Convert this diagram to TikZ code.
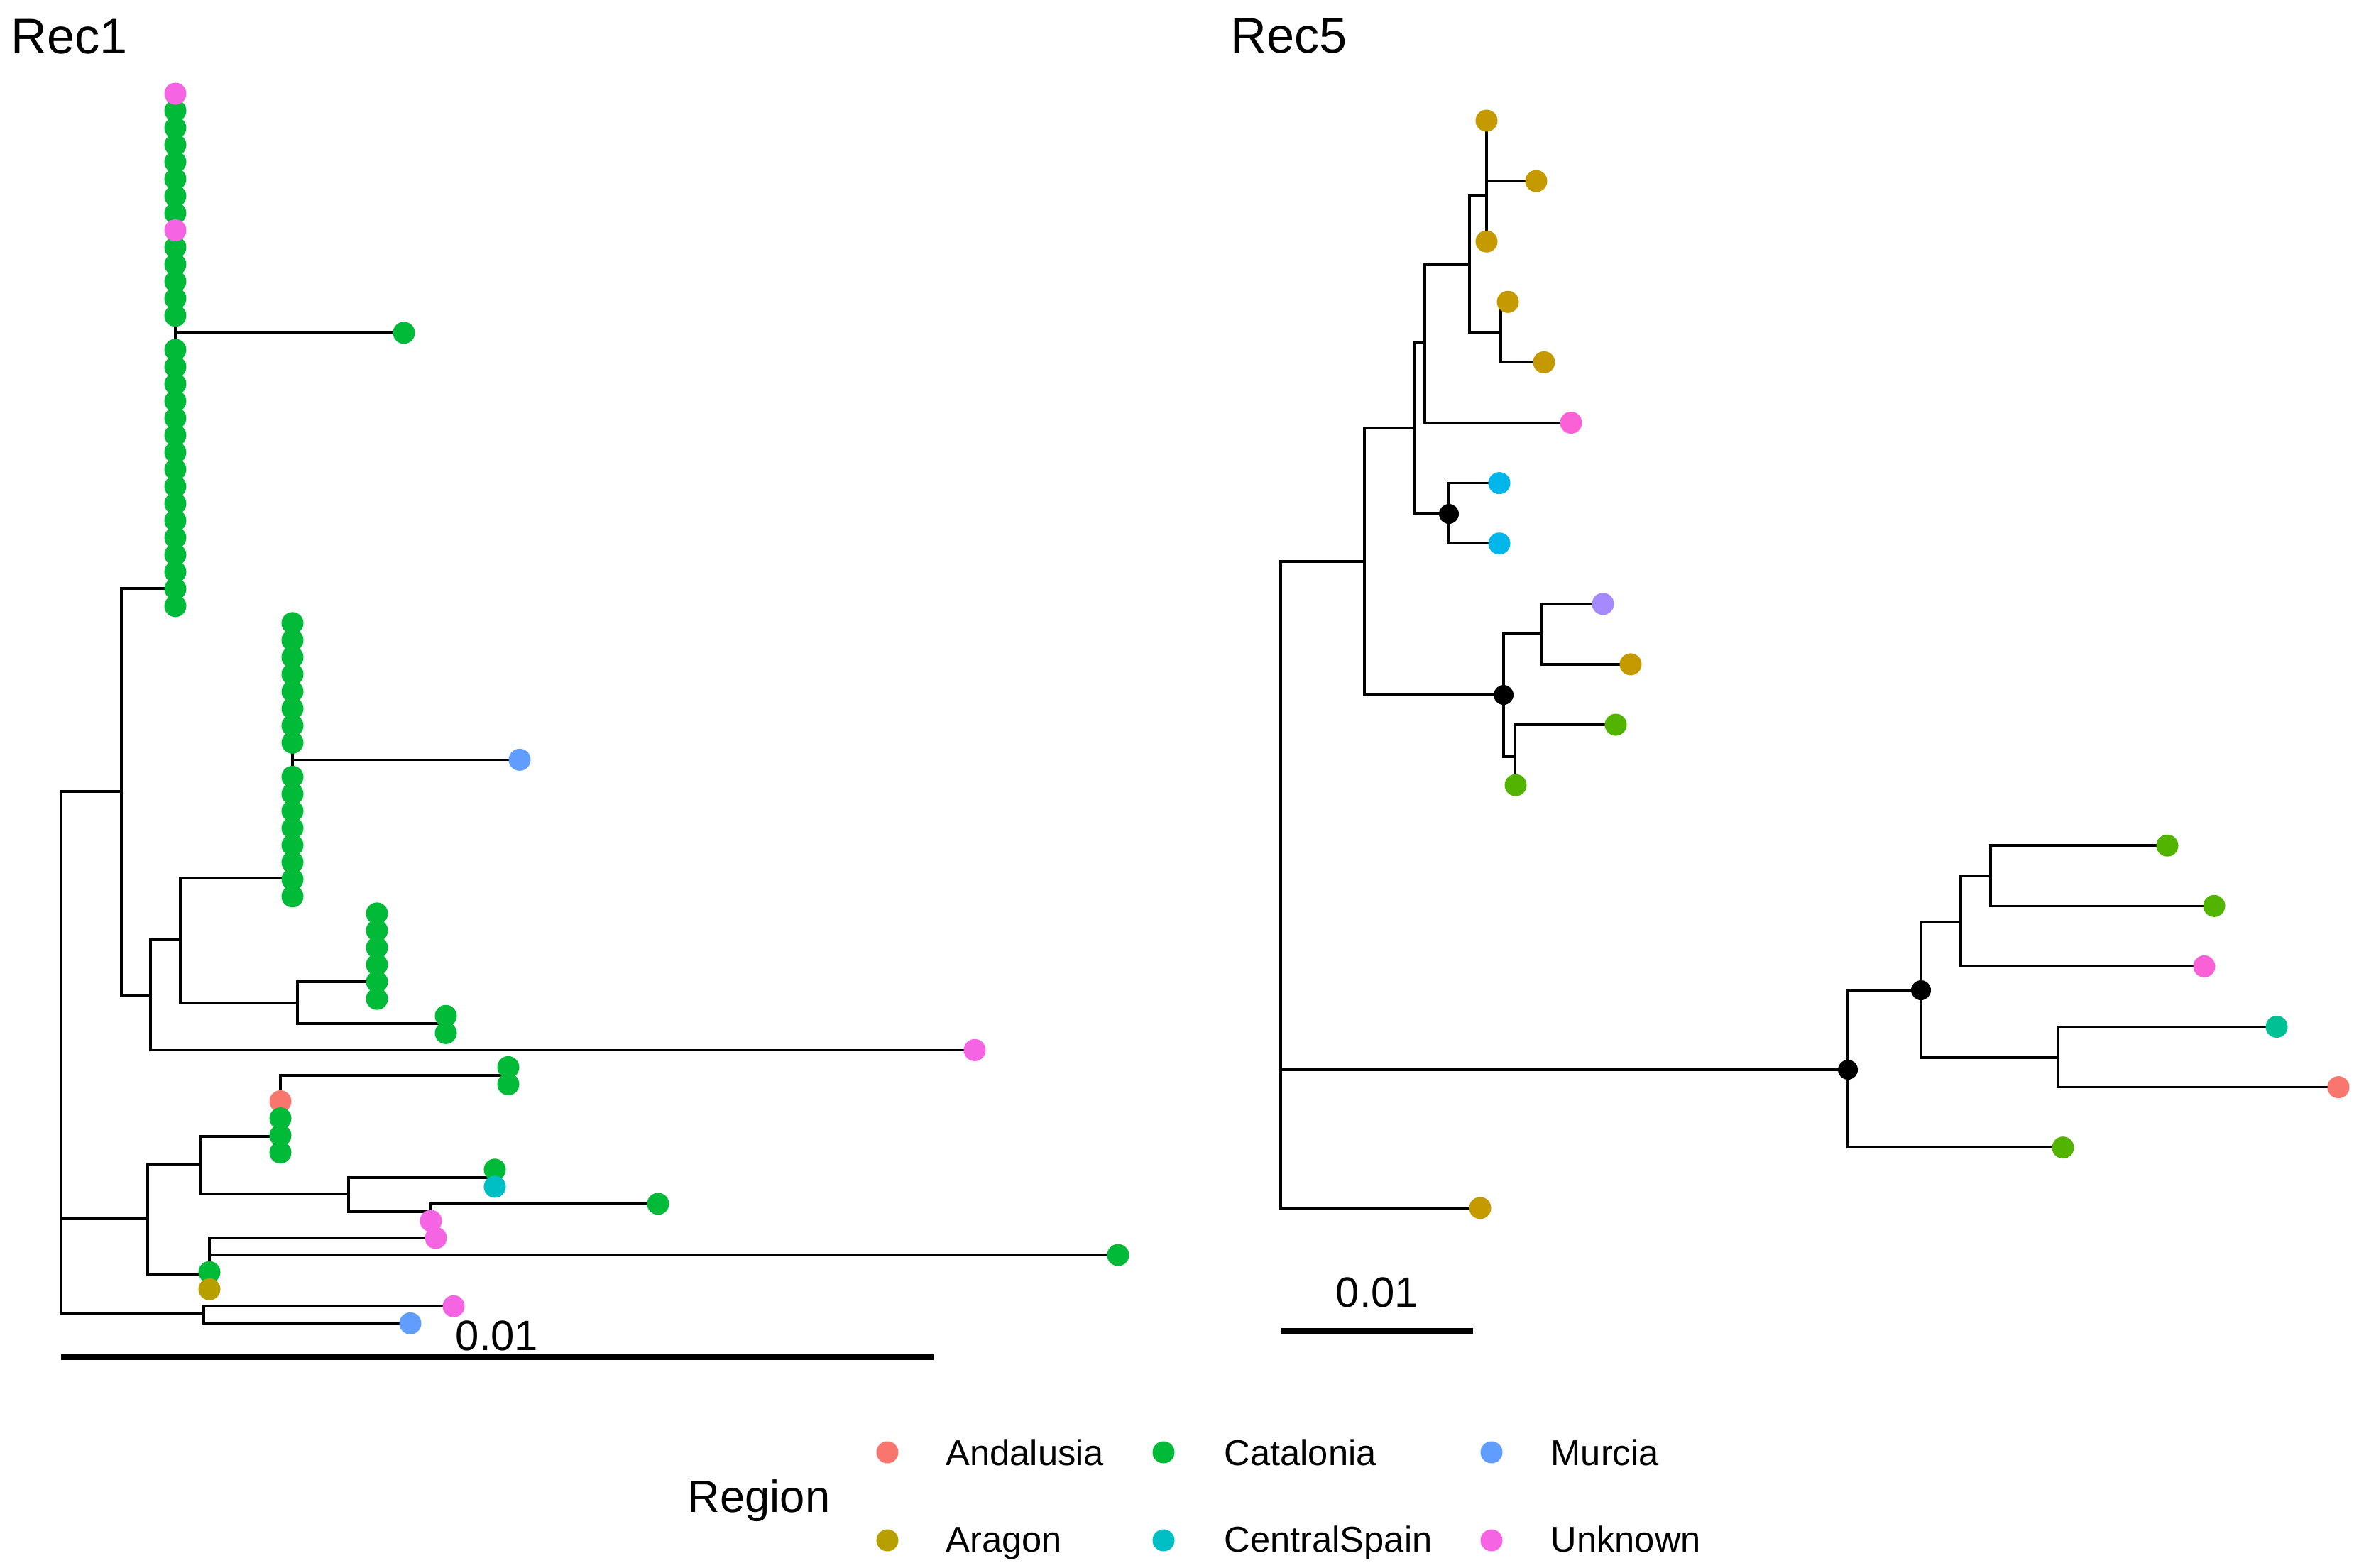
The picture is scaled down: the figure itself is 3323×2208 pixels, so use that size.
\documentclass[tikz,border=0pt]{standalone}
\usepackage{fontspec}
\setmainfont{Liberation Sans}
\usetikzlibrary{backgrounds}

\definecolor{andalusia}{HTML}{F8766D}
\definecolor{aragon}{HTML}{B79F00}
\definecolor{catalonia}{HTML}{00BA38}
\definecolor{centralspain}{HTML}{00BFC4}
\definecolor{murcia}{HTML}{619CFF}
\definecolor{unknown}{HTML}{F564E3}
% Rec5 uses a seven colour scale
\definecolor{oliveV}{HTML}{C49A00}
\definecolor{greenV}{HTML}{53B400}
\definecolor{tealV}{HTML}{00C094}
\definecolor{blueV}{HTML}{00B6EB}
\definecolor{purpleV}{HTML}{A58AFF}
\definecolor{pinkV}{HTML}{FB61D7}
\definecolor{salmonV}{HTML}{F8766D}

\tikzset{
  branchline/.style={line width=1pt},
  leaf/.style={circle,fill=#1,inner sep=0pt,minimum size=0.31cm},
  innerdot/.style={circle,fill=black,inner sep=0pt,minimum size=0.28cm},
  scalebar/.style={line width=2.4pt},
  treetitle/.style={font=\fontsize{20}{24}\selectfont,anchor=base west,inner sep=0pt},
  scalelabel/.style={font=\fontsize{17}{20}\selectfont,anchor=base,inner sep=0pt},
  keylabel/.style={font=\fontsize{14.4}{17}\selectfont,anchor=base west,inner sep=0pt},
}
\newcommand{\lrow}[1]{132+24.06*#1}
\newcommand{\rrow}[1]{170+85.1*#1}

\begin{document}
\begin{tikzpicture}[x=0.01cm,y=-0.01cm]
\useasboundingbox (0,0) rectangle (3323,2208);

%%% Rec1
\node[treetitle] (title1) at (15,75) {Rec1};

% tips
\foreach \i in {1,...,7} \node[leaf=catalonia] (l\i) at (247,{\lrow{\i}}) {};
\foreach \i in {9,...,13} \node[leaf=catalonia] (l\i) at (247,{\lrow{\i}}) {};
\foreach \i in {15,...,30} \node[leaf=catalonia] (l\i) at (247,{\lrow{\i}}) {};
\node[leaf=unknown] (l0) at (247,{\lrow{0}}) {};
\node[leaf=unknown] (l8) at (247,{\lrow{8}}) {};
\node[leaf=catalonia] (l14) at (569,{\lrow{14}}) {};

\foreach \i in {31,...,38} \node[leaf=catalonia] (l\i) at (412,{\lrow{\i}}) {};
\foreach \i in {40,...,47} \node[leaf=catalonia] (l\i) at (412,{\lrow{\i}}) {};
\node[leaf=murcia] (l39) at (732,{\lrow{39}}) {};

\foreach \i in {48,...,53} \node[leaf=catalonia] (l\i) at (531,{\lrow{\i}}) {};
\node[leaf=catalonia] (l54) at (628,{\lrow{54}}) {};
\node[leaf=catalonia] (l55) at (628,{\lrow{55}}) {};
\node[leaf=unknown] (l56) at (1373,{\lrow{56}}) {};
\node[leaf=catalonia] (l57) at (716,{\lrow{57}}) {};
\node[leaf=catalonia] (l58) at (716,{\lrow{58}}) {};
\node[leaf=andalusia] (l59) at (395,{\lrow{59}}) {};
\foreach \i in {60,61,62} \node[leaf=catalonia] (l\i) at (395,{\lrow{\i}}) {};
\node[leaf=catalonia] (l63) at (697,{\lrow{63}}) {};
\node[leaf=centralspain] (l64) at (697,{\lrow{64}}) {};
\node[leaf=catalonia] (l65) at (927,{\lrow{65}}) {};
\node[leaf=unknown] (l66) at (607,{\lrow{66}}) {};
\node[leaf=unknown] (l67) at (614,{\lrow{67}}) {};
\node[leaf=catalonia] (l68) at (1575,{\lrow{68}}) {};
\node[leaf=catalonia] (l69) at (295,{\lrow{69}}) {};
\node[leaf=aragon] (l70) at (295,{\lrow{70}}) {};
\node[leaf=unknown] (l71) at (639,{\lrow{71}}) {};
\node[leaf=murcia] (l72) at (578,{\lrow{72}}) {};

% inner nodes
\coordinate (Lroot) at (86,1483);
\coordinate (Lp1) at (171,1115);
\coordinate (Lc1) at (247,829);
\coordinate (Lq) at (212,1403);
\coordinate (Lq1) at (254,1324);
\coordinate (Lc2) at (412,1237);
\coordinate (Lq2) at (419,1413);
\coordinate (Lc3) at (531,1383);
\coordinate (Lc4) at (628,1442);
\coordinate (Lp2) at (208,1717);
\coordinate (Ls1) at (282,1641);
\coordinate (Lc5) at (395,1601);
\coordinate (Lc6) at (716,1515);
\coordinate (Ls3) at (491,1682);
\coordinate (Lc7) at (697,1659);
\coordinate (Ls4) at (607,1707);
\coordinate (Ls2) at (295,1796);
\coordinate (Lp3) at (287,1851);

\begin{pgfonlayer}{background}
\draw[branchline] (Lroot) |- (Lp1) (Lroot) |- (Lp2) (Lroot) |- (Lp3);
\draw[branchline] (Lp1) |- (Lc1) (Lp1) |- (Lq);
\draw[branchline] (Lc1) |- (l0.center) (Lc1) |- (l30.center) (Lc1) |- (l14.center);
\draw[branchline] (Lq) |- (Lq1) (Lq) |- (l56.center);
\draw[branchline] (Lq1) |- (Lc2) (Lq1) |- (Lq2);
\draw[branchline] (Lc2) |- (l31.center) (Lc2) |- (l47.center) (Lc2) |- (l39.center);
\draw[branchline] (Lq2) |- (Lc3) (Lq2) |- (Lc4);
\draw[branchline] (Lc3) |- (l48.center) (Lc3) |- (l53.center);
\draw[branchline] (Lc4) |- (l54.center) (Lc4) |- (l55.center);
\draw[branchline] (Lp2) |- (Ls1) (Lp2) |- (Ls2);
\draw[branchline] (Ls1) |- (Lc5) (Ls1) |- (Ls3);
\draw[branchline] (Lc5) |- (Lc6) (Lc5) |- (l62.center);
\draw[branchline] (Lc6) |- (l57.center) (Lc6) |- (l58.center);
\draw[branchline] (Ls3) |- (Lc7) (Ls3) |- (Ls4);
\draw[branchline] (Lc7) |- (l63.center) (Lc7) |- (l64.center);
\draw[branchline] (Ls4) |- (l65.center) (Ls4) |- (l66.center);
\draw[branchline] (Ls2) |- (l67.center) (Ls2) |- (l68.center) (Ls2) |- (l70.center);
\draw[branchline] (Lp3) |- (l71.center) (Lp3) |- (l72.center);
\end{pgfonlayer}

% scale
\coordinate (sbLa) at (86,1912);
\coordinate (sbLb) at (1315,1912);
\draw[scalebar] (sbLa) -- (sbLb);
\node[scalelabel] (scaleL) at (700,1902) {0.01};

%%% Rec5
\node[treetitle] (title5) at (1733,74) {Rec5};

\node[leaf=oliveV] (r0) at (2094,{\rrow{0}}) {};
\node[leaf=oliveV] (r1) at (2164,{\rrow{1}}) {};
\node[leaf=oliveV] (r2) at (2094,{\rrow{2}}) {};
\node[leaf=oliveV] (r3) at (2124,{\rrow{3}}) {};
\node[leaf=oliveV] (r4) at (2175,{\rrow{4}}) {};
\node[leaf=pinkV] (r5) at (2213,{\rrow{5}}) {};
\node[leaf=blueV] (r6) at (2112,{\rrow{6}}) {};
\node[leaf=blueV] (r7) at (2112,{\rrow{7}}) {};
\node[leaf=purpleV] (r8) at (2258,{\rrow{8}}) {};
\node[leaf=oliveV] (r9) at (2297,{\rrow{9}}) {};
\node[leaf=greenV] (r10) at (2276,{\rrow{10}}) {};
\node[leaf=greenV] (r11) at (2135,{\rrow{11}}) {};
\node[leaf=greenV] (r12) at (3053,{\rrow{12}}) {};
\node[leaf=greenV] (r13) at (3119,{\rrow{13}}) {};
\node[leaf=pinkV] (r14) at (3105,{\rrow{14}}) {};
\node[leaf=tealV] (r15) at (3207,{\rrow{15}}) {};
\node[leaf=salmonV] (r16) at (3294,{\rrow{16}}) {};
\node[leaf=greenV] (r17) at (2906,{\rrow{17}}) {};
\node[leaf=oliveV] (r18) at (2085,{\rrow{18}}) {};

\node[innerdot] (RG) at (2041,724) {};
\node[innerdot] (RH) at (2118,979) {};
\node[innerdot] (RM) at (2706,1395) {};
\node[innerdot] (RO) at (2603,1507) {};

\coordinate (Rroot) at (1804,1247);
\coordinate (RA1) at (2094,212);
\coordinate (RA) at (2094,276);
\coordinate (RB) at (2070,373);
\coordinate (RC) at (2114,468);
\coordinate (RD) at (2007,482);
\coordinate (RE) at (1992,603);
\coordinate (RF) at (1922,791);
\coordinate (RI) at (2172,893);
\coordinate (RJ) at (2134,1066);
\coordinate (RK) at (2804,1234);
\coordinate (RL) at (2762,1299);
\coordinate (RN) at (2899,1490);

\begin{pgfonlayer}{background}
\draw[branchline] (Rroot) |- (RF) (Rroot) |- (RO.center) (Rroot) |- (r18.center);
\draw[branchline] (RF) |- (RE) (RF) |- (RH.center);
\draw[branchline] (RE) |- (RD) (RE) |- (RG.center);
\draw[branchline] (RD) |- (RB) (RD) |- (r5.center);
\draw[branchline] (RB) |- (RA) (RB) |- (RC);
\draw[branchline] (RA) |- (RA1) (RA) |- (r2.center);
\draw[branchline] (RA1) |- (r0.center) (RA1) |- (r1.center);
\draw[branchline] (RC) |- (r3.center) (RC) |- (r4.center);
\draw[branchline] (RG.center) |- (r6.center) (RG.center) |- (r7.center);
\draw[branchline] (RH.center) |- (RI) (RH.center) |- (RJ);
\draw[branchline] (RI) |- (r8.center) (RI) |- (r9.center);
\draw[branchline] (RJ) |- (r10.center) (RJ) |- (r11.center);
\draw[branchline] (RO.center) |- (RM.center) (RO.center) |- (r17.center);
\draw[branchline] (RM.center) |- (RL) (RM.center) |- (RN);
\draw[branchline] (RL) |- (RK) (RL) |- (r14.center);
\draw[branchline] (RK) |- (r12.center) (RK) |- (r13.center);
\draw[branchline] (RN) |- (r15.center) (RN) |- (r16.center);
\end{pgfonlayer}

\coordinate (sbRa) at (1804,1875);
\coordinate (sbRb) at (2075,1875);
\draw[scalebar] (sbRa) -- (sbRb);
\node[scalelabel] (scaleR) at (1940,1841) {0.01};

%%% legend
\node[font=\fontsize{18}{21}\selectfont,anchor=base west,inner sep=0pt] (regtitle) at (968,2130) {Region};

\node[leaf=andalusia] (k1) at (1250,2046) {};
\node[leaf=catalonia] (k2) at (1639,2046) {};
\node[leaf=murcia] (k3) at (2101,2046) {};
\node[leaf=aragon] (k4) at (1250,2170) {};
\node[leaf=centralspain] (k5) at (1639,2170) {};
\node[leaf=unknown] (k6) at (2101,2170) {};

\node[keylabel] (n1) at (1332,2064) {Andalusia};
\node[keylabel] (n2) at (1724,2064) {Catalonia};
\node[keylabel] (n3) at (2184,2064) {Murcia};
\node[keylabel] (n4) at (1332,2186) {Aragon};
\node[keylabel] (n5) at (1724,2186) {CentralSpain};
\node[keylabel] (n6) at (2184,2186) {Unknown};

\end{tikzpicture}
\end{document}
